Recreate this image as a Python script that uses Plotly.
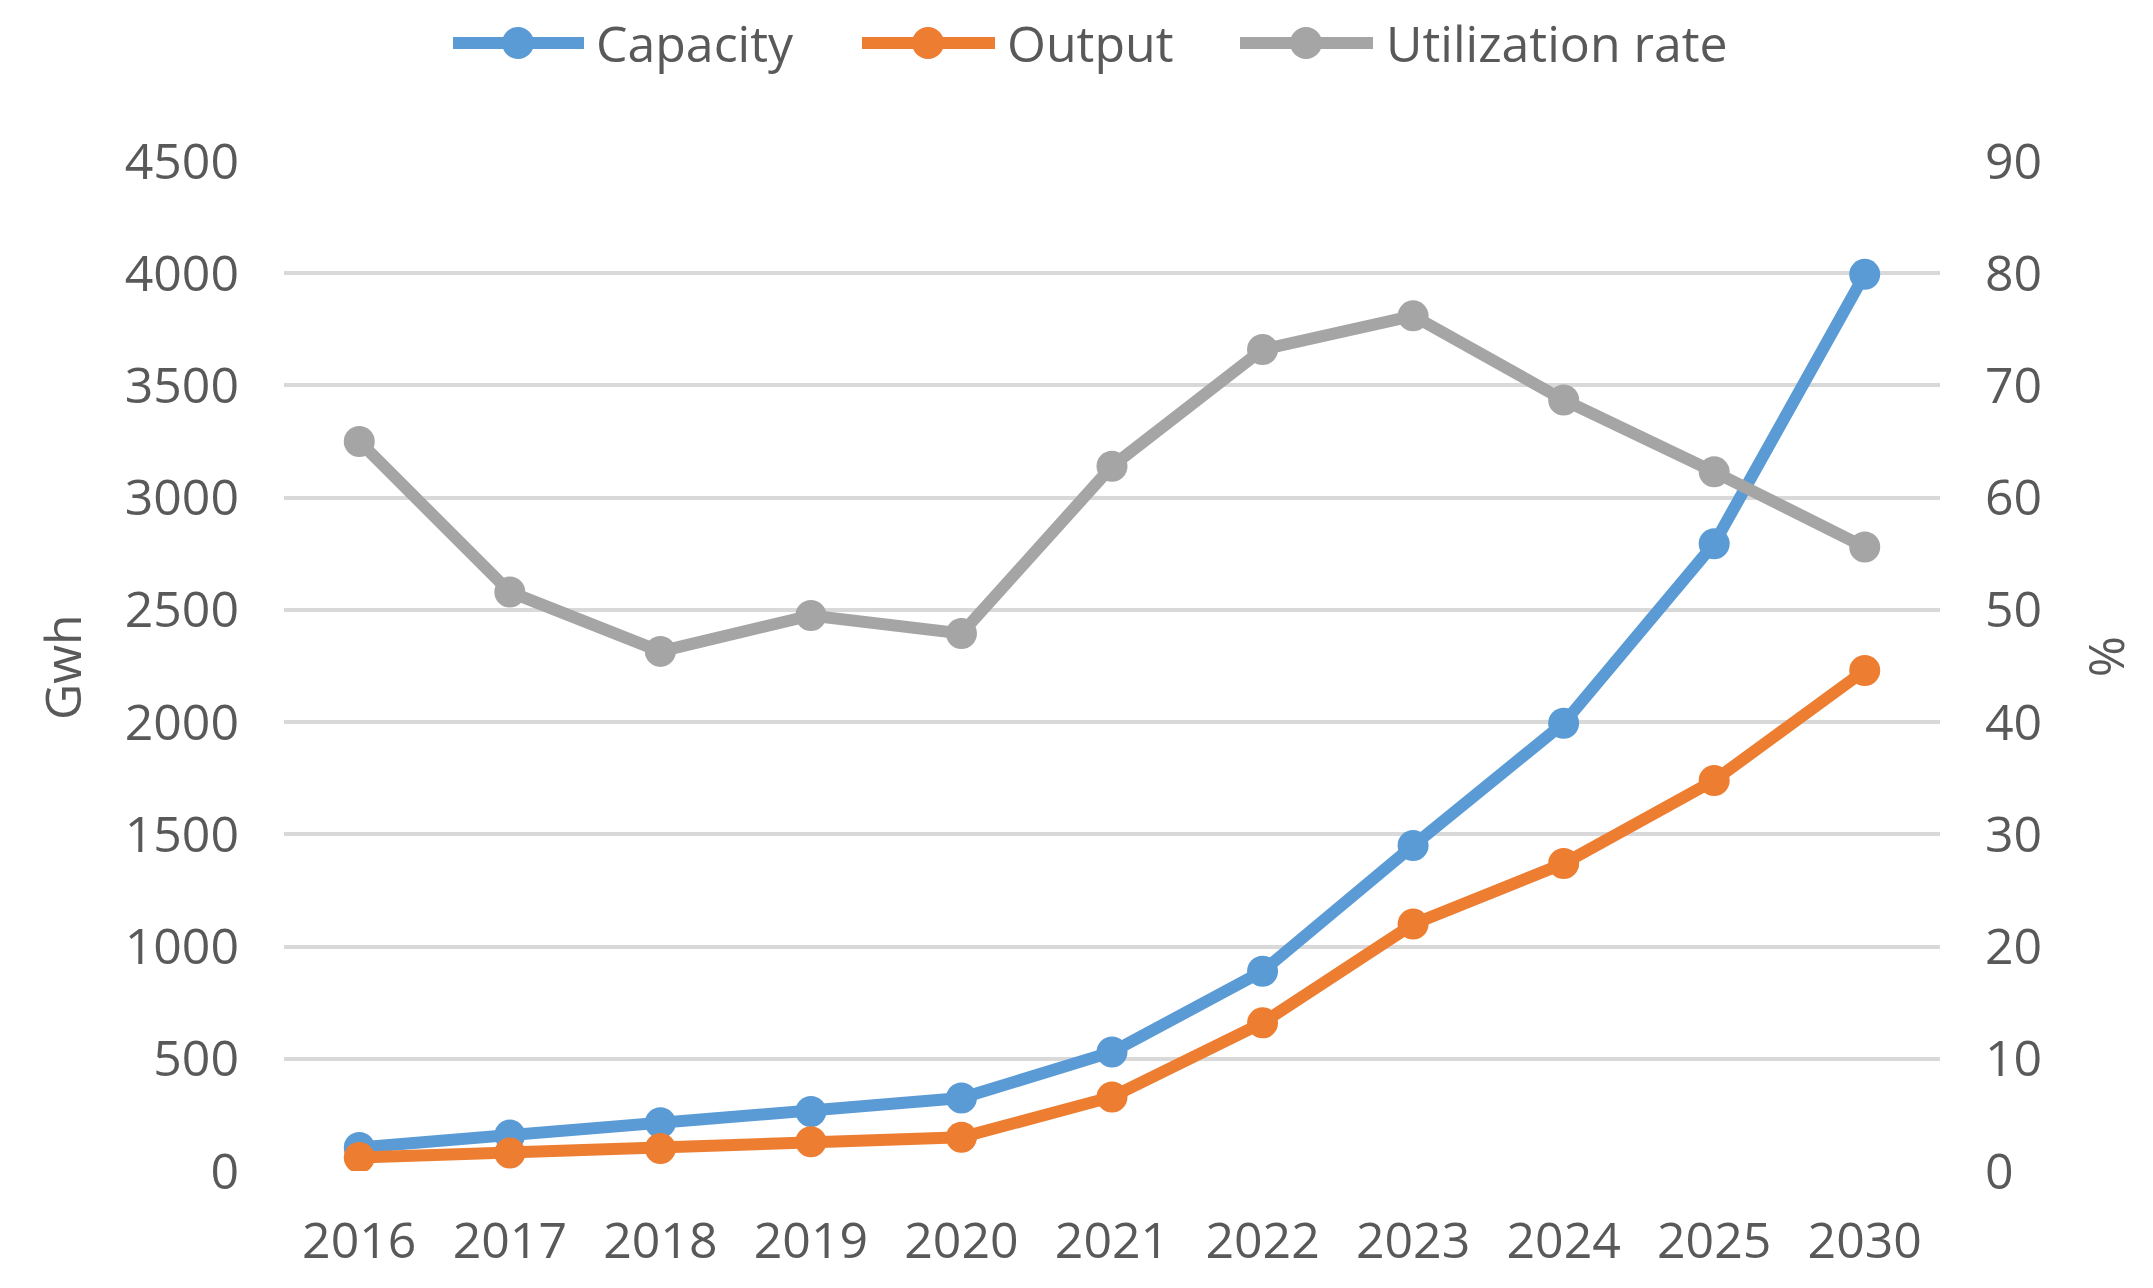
import plotly.graph_objects as go

years = ["2016", "2017", "2018", "2019", "2020", "2021", "2022", "2023", "2024", "2025", "2030"]
capacity = [105, 160, 215, 265, 325, 530, 890, 1450, 1995, 2795, 3995]
output = [60, 80, 100, 130, 150, 330, 660, 1100, 1370, 1740, 2230]
utilization = [65.0, 51.6, 46.3, 49.5, 47.9, 62.8, 73.2, 76.2, 68.7, 62.3, 55.6]

series_names = ["Capacity", "Output", "Utilization rate"]
series_colors = ["#5B9BD5", "#ED7D31", "#A5A5A5"]

left_ticks = [0, 500, 1000, 1500, 2000, 2500, 3000, 3500, 4000, 4500]
right_ticks = [0, 10, 20, 30, 40, 50, 60, 70, 80, 90]

FONT = "Segoe UI, Open Sans, DejaVu Sans, sans-serif"
GRAY = "#595959"
FS = 50

W, H = 2153, 1288
L, R, T, B = 276, 221, 153, 125
PW, PH = W - L - R, H - T - B

def px(x):
    return (x - L) / PW

def py(y):
    return (H - B - y) / PH

fig = go.Figure()
for name, vals, color, axis in zip(series_names, [capacity, output, utilization],
                                   series_colors, ["y", "y", "y2"]):
    fig.add_trace(go.Scatter(x=years, y=vals, name=name, mode="lines+markers",
                             yaxis=axis, showlegend=False,
                             line=dict(color=color, width=12),
                             marker=dict(color=color, size=31)))

# custom legend (figure pixel coordinates)
legend_items = [(445, 576, 510, 586), (854, 987, 920, 997), (1232, 1365, 1298, 1376)]
LY = 35
shapes = []
annotations = []
for (x0, x1, xm, xt), name, color in zip(legend_items, series_names, series_colors):
    shapes.append(dict(type="line", xref="paper", yref="paper",
                       x0=px(x0), x1=px(x1), y0=py(LY), y1=py(LY),
                       line=dict(color=color, width=12)))
    shapes.append(dict(type="circle", xref="paper", yref="paper", xsizemode="pixel",
                       ysizemode="pixel", xanchor=px(xm), yanchor=py(LY),
                       x0=-16, x1=16, y0=-16, y1=16,
                       fillcolor=color, line=dict(color=color, width=0)))
    annotations.append(dict(text=name, xref="paper", yref="paper", x=px(xt), y=py(LY),
                            xanchor="left", yanchor="middle", showarrow=False,
                            font=dict(size=FS, color=GRAY)))

annotations.append(dict(text="Gwh", x=px(54), y=py(659), xref="paper", yref="paper",
                        xanchor="center", yanchor="middle", showarrow=False,
                        textangle=-90, font=dict(size=FS, color=GRAY)))
annotations.append(dict(text="%", x=px(2100), y=py(648), xref="paper", yref="paper",
                        xanchor="center", yanchor="middle", showarrow=False,
                        textangle=90, font=dict(size=FS, color=GRAY)))

fig.update_layout(
    width=W, height=H,
    margin=dict(l=L, r=R, t=T, b=B, autoexpand=False),
    paper_bgcolor="white", plot_bgcolor="white",
    font=dict(family=FONT, color=GRAY, size=FS),
    showlegend=False,
    xaxis=dict(type="category", range=[-0.5, 10.5], showgrid=False, zeroline=False,
               showline=False, ticks="", ticklabelstandoff=36,
               tickfont=dict(size=FS, color=GRAY)),
    yaxis=dict(range=[0, 4500], tickvals=left_ticks, showgrid=True, gridcolor="#D9D9D9",
               gridwidth=4, zeroline=False, showline=False, ticks="",
               ticklabelstandoff=44, tickfont=dict(size=FS, color=GRAY)),
    yaxis2=dict(range=[0, 90], tickvals=right_ticks, overlaying="y", side="right",
                showgrid=False, zeroline=False, showline=False, ticks="",
                ticklabelstandoff=44, tickfont=dict(size=FS, color=GRAY)),
    shapes=shapes,
    annotations=annotations,
)

fig.write_html("out.html")
